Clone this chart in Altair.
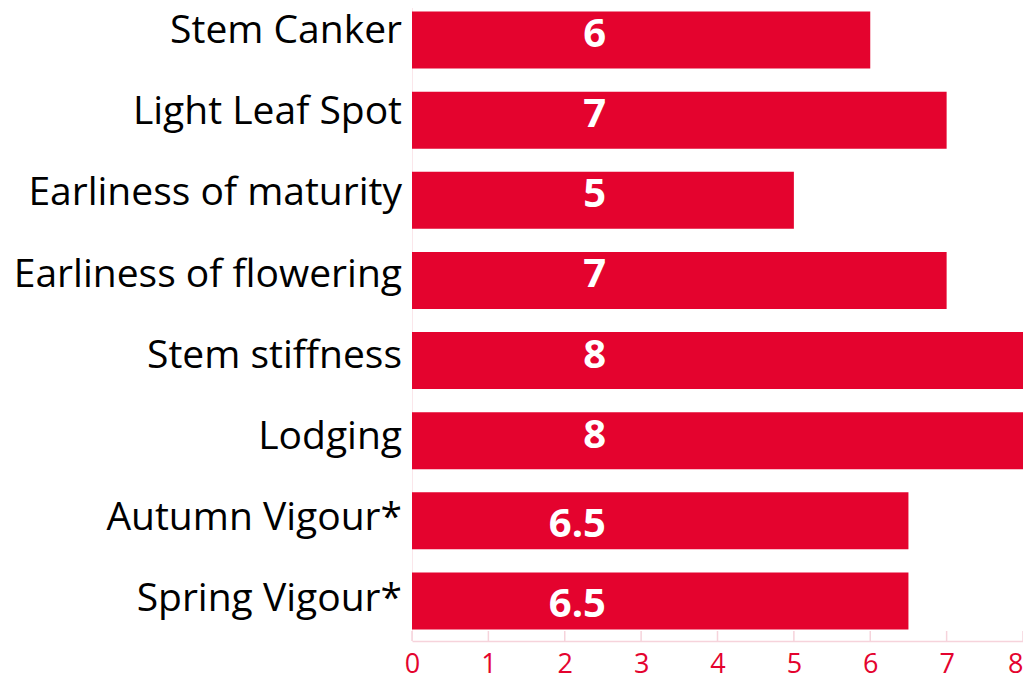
import altair as alt
import pandas as pd

categories = ["Stem Canker", "Light Leaf Spot", "Earliness of maturity",
              "Earliness of flowering", "Stem stiffness", "Lodging",
              "Autumn Vigour*", "Spring Vigour*"]
values = [6, 7, 5, 7, 8, 8, 6.5, 6.5]
labels = ["6", "7", "5", "7", "8", "8", "6.5", "6.5"]
tick_values = [0, 1, 2, 3, 4, 5, 6, 7, 8]

df = pd.DataFrame({"cat": categories, "val": values, "lab": labels})
ticks_df = pd.DataFrame({"t": tick_values})

RED = "#E4032E"
PINK = "#F6D3DB"
W, H = 611, 641

xscale = alt.Scale(domain=[0, 8], nice=False, zero=True)
yscale = alt.Scale(domain=categories, paddingInner=0.29, paddingOuter=0.145)
# category labels sit on a slightly wider band grid than the bars
ylabscale = alt.Scale(domain=categories, range=[2.4, 652], paddingInner=0, paddingOuter=0)

bars = alt.Chart(df).mark_bar(color=RED).encode(
    x=alt.X("val:Q", scale=xscale,
            axis=alt.Axis(values=tick_values, title=None, grid=False, tickSize=0,
                          labelColor=RED, labelFontSize=27, labelFont="Open Sans",
                          labelPadding=10, labelFlush=False,
                          labelAlign={"condition": {"test": "datum.value == 8", "value": "right"},
                                      "value": "center"},
                          domainColor=PINK, domainWidth=1.5, format="d")),
    y=alt.Y("cat:N", sort=categories, scale=yscale,
            axis=alt.Axis(title=None, ticks=False, labels=False,
                          domainColor="#FBE6EA", domainWidth=1)),
)

text_base = alt.Chart(df).encode(
    x=alt.value(194),
    y=alt.Y("cat:N", sort=categories, scale=yscale),
    text="lab:N",
)
text_int = text_base.transform_filter("indexof(datum.lab, '.') < 0").mark_text(
    color="white", fontSize=40, fontWeight="bold", font="Open Sans",
    align="right", baseline="alphabetic", dy=7)
text_dec = text_base.transform_filter("indexof(datum.lab, '.') >= 0").mark_text(
    color="white", fontSize=40, fontWeight="bold", font="Open Sans",
    align="right", baseline="alphabetic", dy=16)

tick_rules = alt.Chart(ticks_df).mark_rule(color=PINK, strokeWidth=1.5).encode(
    x=alt.X("t:Q", scale=xscale),
    y=alt.value(H - 10),
    y2=alt.value(H),
)

cat_labels = alt.Chart(df).mark_text(
    color="black", fontSize=39, font="Open Sans", align="right",
    baseline="alphabetic").encode(
    x=alt.value(-10),
    y=alt.Y("cat:N", sort=categories, scale=ylabscale, axis=None),
    text="cat:N",
)

inner = alt.layer(bars, tick_rules, text_int, text_dec)

chart = alt.layer(inner, cat_labels).resolve_scale(
    y="independent"
).properties(
    width=W, height=H,
    autosize=alt.AutoSizeParams(type="none"),
    padding={"left": 404, "top": -8, "right": 0, "bottom": 34},
).configure_view(stroke=None)

chart.save("out.html", embed_options={"renderer": "svg", "actions": False})
